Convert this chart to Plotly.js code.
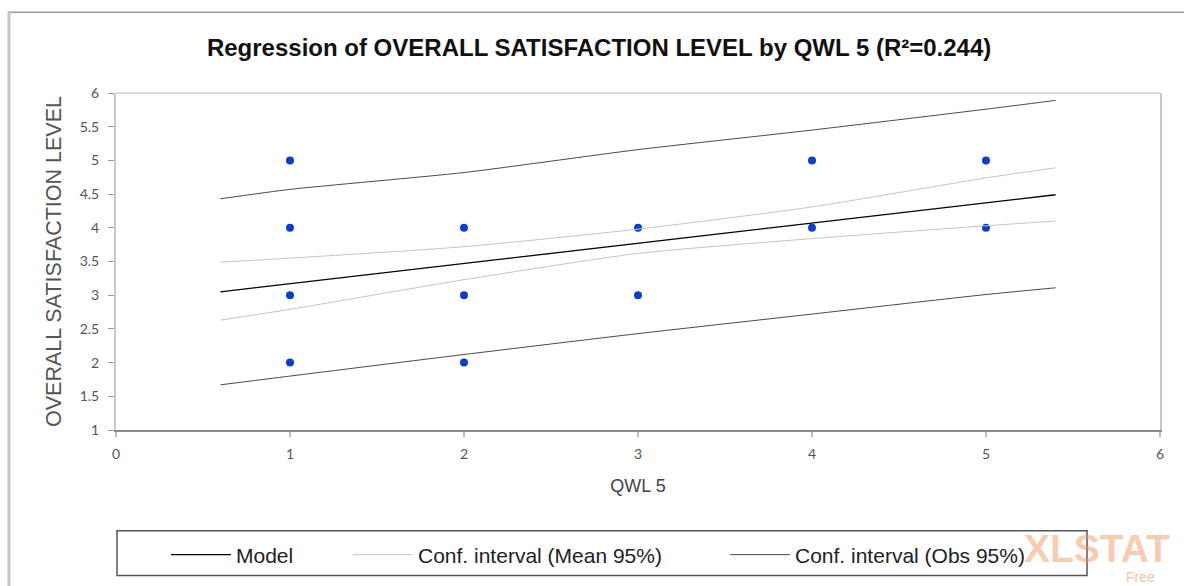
<!DOCTYPE html>
<html>
<head>
<meta charset="utf-8">
<script src="https://cdn.plot.ly/plotly-3.0.1.min.js"></script>
<style>
  html, body { margin: 0; padding: 0; background: #ffffff; }
  #chart { width: 1184px; height: 586px; }
</style>
</head>
<body>
<div id="chart"></div>
<script>
// Observations
const obsX = [1, 1, 1, 1, 2, 2, 2, 3, 3, 4, 4, 5, 5];
const obsY = [2, 3, 4, 5, 2, 3, 4, 3, 4, 4, 5, 4, 5];

// Regression curves
const curveX     = [0.6, 1, 2, 3, 4, 5, 5.4];
const modelY     = [3.05, 3.17, 3.47, 3.77, 4.07, 4.37, 4.49];
const meanUpperY = [3.49, 3.55, 3.72, 3.98, 4.31, 4.74, 4.89];
const meanLowerY = [2.63, 2.79, 3.23, 3.62, 3.84, 4.03, 4.10];
const obsUpperY  = [4.43, 4.57, 4.82, 5.16, 5.45, 5.76, 5.89];
const obsLowerY  = [1.67, 1.80, 2.12, 2.43, 2.72, 3.01, 3.11];

const xTicks = [0, 1, 2, 3, 4, 5, 6];
const yTicks = [1, 1.5, 2, 2.5, 3, 3.5, 4, 4.5, 5, 5.5, 6];
const yTickText = ['1', '1.5', '2', '2.5', '3', '3.5', '4', '4.5', '5', '5.5', '6'];

const titleText = 'Regression of OVERALL SATISFACTION LEVEL by QWL 5 (R\u00b2=0.244)';
const xTitle = 'QWL 5';
const yTitle = 'OVERALL SATISFACTION LEVEL';
const seriesNames = ['Model', 'Conf. interval (Mean 95%)', 'Conf. interval (Obs 95%)'];

const sans = '"Liberation Sans", Arial, sans-serif';
const tickFont = 'Lato, "Open Sans", sans-serif';

// pixel helpers for paper placement of decorations
const L = 116, R = 1160, T = 93, B = 431;
const px = v => (v - L) / (R - L);
const py = v => (B - v) / (B - T);

const traces = [
  { x: obsX, y: obsY, type: 'scatter', mode: 'markers', showlegend: false,
    marker: { color: '#0c3ec6', size: 8 }, hoverinfo: 'x+y' },
  { x: curveX, y: obsUpperY, type: 'scatter', mode: 'lines', name: seriesNames[2],
    legend: 'legend3', legendgroup: 'obs',
    line: { color: '#4a4a4a', width: 1, shape: 'spline', smoothing: 0.6 } },
  { x: curveX, y: obsLowerY, type: 'scatter', mode: 'lines', name: seriesNames[2],
    legend: 'legend3', legendgroup: 'obs', showlegend: false,
    line: { color: '#4a4a4a', width: 1, shape: 'spline', smoothing: 0.6 } },
  { x: curveX, y: meanUpperY, type: 'scatter', mode: 'lines', name: seriesNames[1],
    legend: 'legend2', legendgroup: 'mean',
    line: { color: '#c4c4c4', width: 1, shape: 'spline', smoothing: 0.6 } },
  { x: curveX, y: meanLowerY, type: 'scatter', mode: 'lines', name: seriesNames[1],
    legend: 'legend2', legendgroup: 'mean', showlegend: false,
    line: { color: '#c4c4c4', width: 1, shape: 'spline', smoothing: 0.6 } },
  { x: curveX, y: modelY, type: 'scatter', mode: 'lines', name: seriesNames[0],
    legend: 'legend',
    line: { color: '#000000', width: 1.3 } }
];

const legendCommon = {
  orientation: 'h', xref: 'paper', yref: 'paper', yanchor: 'middle',
  y: py(555), bgcolor: 'rgba(0,0,0,0)', borderwidth: 0,
  font: { family: sans, size: 21, color: '#222' }, itemwidth: 60
};

const layout = {
  width: 1184, height: 586,
  margin: { l: L, r: 1184 - R, t: T, b: 586 - B, pad: 0 },
  paper_bgcolor: '#ffffff', plot_bgcolor: '#ffffff',
  title: {
    text: titleText, x: 0.506, xref: 'container', xanchor: 'center',
    y: 1 - 48 / 586, yref: 'container', yanchor: 'middle',
    font: { family: sans, size: 24, color: '#111', weight: 'bold' }
  },
  xaxis: {
    range: [0, 6], tickvals: xTicks, ticktext: xTicks.map(String),
    showgrid: false, zeroline: false,
    showline: true, linecolor: '#8c8c8c', linewidth: 1.5,
    ticks: 'outside', ticklen: 5, tickcolor: '#bdbdbd', tickwidth: 1.5,
    ticklabelstandoff: 6,
    tickfont: { family: tickFont, size: 14, color: '#555' },
    title: { text: xTitle, standoff: 18,
      font: { family: sans, size: 18, color: '#444' } },
    fixedrange: true
  },
  yaxis: {
    range: [1, 6], tickvals: yTicks, ticktext: yTickText,
    showgrid: false, zeroline: false,
    showline: true, linecolor: '#c8c8c8', linewidth: 2, mirror: true,
    ticks: 'outside', ticklen: 6, tickcolor: '#9a9a9a', tickwidth: 1,
    ticklabelstandoff: 6,
    tickfont: { family: tickFont, size: 14, color: '#555' },
    title: { text: yTitle, standoff: 12,
      font: { family: sans, size: 21.5, color: '#555' } },
    fixedrange: true
  },
  legend:  Object.assign({}, legendCommon, { x: px(166) }),
  legend2: Object.assign({}, legendCommon, { x: px(348) }),
  legend3: Object.assign({}, legendCommon, { x: px(725) }),
  shapes: [
    // plot-area top frame line
    { type: 'line', xref: 'paper', yref: 'paper', x0: 0, x1: 1, y0: 1, y1: 1,
      line: { color: '#d0d0d0', width: 1.5 } },
    // legend box
    { type: 'rect', xref: 'paper', yref: 'paper',
      x0: px(117), x1: px(1087), y0: py(577), y1: py(532),
      line: { color: '#555', width: 1.5 }, layer: 'below' },
    // outer chart frame (top + left)
    { type: 'line', xref: 'paper', yref: 'paper', x0: px(8), x1: px(1190), y0: py(12), y1: py(12),
      line: { color: '#9a9a9a', width: 1.5 } },
    { type: 'line', xref: 'paper', yref: 'paper', x0: px(9), x1: px(9), y0: py(12), y1: py(590),
      line: { color: '#c4c4c4', width: 3 } }
  ],
  annotations: [
    { text: '<b>XLSTAT</b>', xref: 'paper', yref: 'paper', x: px(1022), y: py(550),
      xanchor: 'left', yanchor: 'middle', showarrow: false,
      font: { family: sans, size: 39, color: 'rgba(240,140,80,0.45)' } },
    { text: 'Free', xref: 'paper', yref: 'paper', x: px(1124), y: py(568),
      xanchor: 'left', yanchor: 'top', showarrow: false,
      font: { family: sans, size: 14, color: 'rgba(240,140,80,0.55)' } }
  ]
};

Plotly.newPlot('chart', traces, layout, { displayModeBar: false, staticPlot: true });
</script>
</body>
</html>
